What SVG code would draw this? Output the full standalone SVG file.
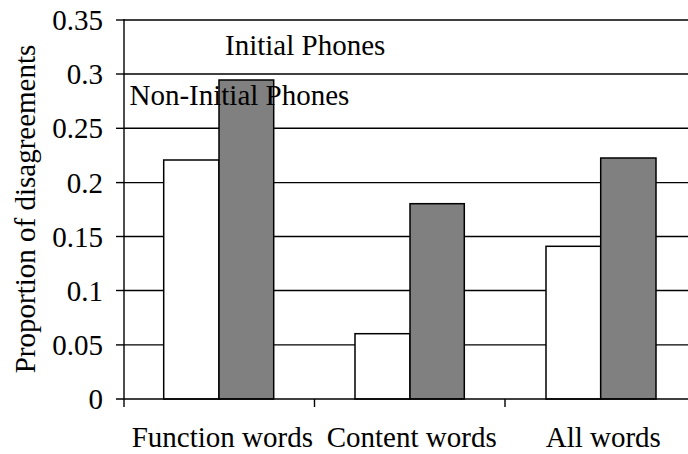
<svg xmlns="http://www.w3.org/2000/svg" width="688" height="454" viewBox="0 0 688 454">
<style>
.t{font-family:'Liberation Serif','Times New Roman',serif;font-size:29px;fill:#000}
.tl{text-anchor:end}
.cl{text-anchor:middle}
.grid{stroke:#000;stroke-width:1.4;fill:none}
.axis{stroke:#000;stroke-width:1.4;fill:none}
.w{fill:#fff;stroke:#000;stroke-width:1.5}
.g{fill:#808080;stroke:#000;stroke-width:1.5}
</style>
<rect width="688" height="454" fill="#fff"/>
<g id="gridlines">
<line class="grid" x1="124" y1="20" x2="688" y2="20"/>
<line class="grid" x1="124" y1="74" x2="688" y2="74"/>
<line class="grid" x1="124" y1="128.3" x2="688" y2="128.3"/>
<line class="grid" x1="124" y1="182.6" x2="688" y2="182.6"/>
<line class="grid" x1="124" y1="236.5" x2="688" y2="236.5"/>
<line class="grid" x1="124" y1="290.5" x2="688" y2="290.5"/>
<line class="grid" x1="124" y1="344.9" x2="688" y2="344.9"/>
</g>
<g id="bars">
<rect id="fw-initial" class="w" x="163.7" y="160" width="55.3" height="239"/>
<rect id="fw-noninitial" class="g" x="219" y="80" width="54.7" height="319"/>
<rect id="cw-initial" class="w" x="355" y="333.7" width="55" height="65.3"/>
<rect id="cw-noninitial" class="g" x="410" y="203.7" width="54.3" height="195.3"/>
<rect id="aw-initial" class="w" x="546" y="246.3" width="54.7" height="152.7"/>
<rect id="aw-noninitial" class="g" x="600.7" y="158" width="55.3" height="241"/>
</g>
<g id="axes">
<line class="axis" x1="124" y1="19" x2="124" y2="407"/>
<line class="axis" x1="116" y1="399" x2="688" y2="399"/>
<line class="axis" x1="116" y1="20" x2="124" y2="20"/>
<line class="axis" x1="116" y1="74" x2="124" y2="74"/>
<line class="axis" x1="116" y1="128.3" x2="124" y2="128.3"/>
<line class="axis" x1="116" y1="182.6" x2="124" y2="182.6"/>
<line class="axis" x1="116" y1="236.5" x2="124" y2="236.5"/>
<line class="axis" x1="116" y1="290.5" x2="124" y2="290.5"/>
<line class="axis" x1="116" y1="344.9" x2="124" y2="344.9"/>
<line class="axis" x1="314.5" y1="399" x2="314.5" y2="407"/>
<line class="axis" x1="505" y1="399" x2="505" y2="407"/>
</g>
<g id="y-labels">
<text class="t tl" x="103" y="30">0.35</text>
<text class="t tl" x="103" y="84">0.3</text>
<text class="t tl" x="103" y="138.3">0.25</text>
<text class="t tl" x="103" y="192.6">0.2</text>
<text class="t tl" x="103" y="246.5">0.15</text>
<text class="t tl" x="103" y="300.5">0.1</text>
<text class="t tl" x="103" y="354.9">0.05</text>
<text class="t tl" x="103" y="409">0</text>
</g>
<text id="y-title" class="t cl" transform="translate(35,209) rotate(-90)">Proportion of disagreements</text>
<g id="x-labels">
<text class="t cl" x="222.3" y="447">Function words</text>
<text class="t cl" x="411.7" y="447">Content words</text>
<text class="t cl" x="603.3" y="447">All words</text>
</g>
<g id="legend">
<text class="t" x="225" y="55">Initial Phones</text>
<text class="t" x="129.5" y="105">Non-Initial Phones</text>
</g>
</svg>
